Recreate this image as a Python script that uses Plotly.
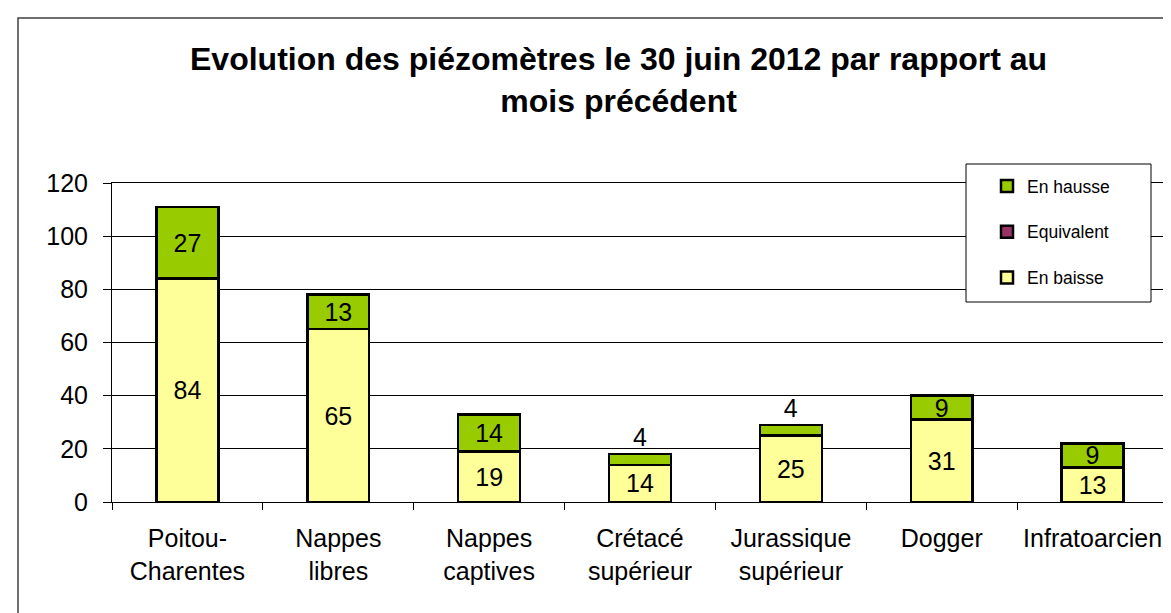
import plotly.graph_objects as go

categories = ["Poitou-<br>Charentes", "Nappes<br>libres", "Nappes<br>captives", "Crétacé<br>supérieur",
              "Jurassique<br>supérieur", "Dogger", "Infratoarcien"]
en_baisse = [84, 65, 19, 14, 25, 31, 13]
equivalent = [0, 0, 0, 0, 0, 0, 0]
en_hausse = [27, 13, 14, 4, 4, 9, 9]
hausse_textpos = ["inside", "inside", "inside", "outside", "outside", "inside", "inside"]

W, H = 1171, 613
L, R, T, B = 104, 1160, 175, 494


def px(x):
    return (x - L) / (R - L)


def py(y):
    return (B - y) / (B - T)


FONT = "Arial, Liberation Sans, sans-serif"
fig = go.Figure()
fig.add_trace(go.Bar(x=categories, y=en_baisse, name="En baisse", legendgroup="b", legendrank=3,
                     marker=dict(color="#FFFF99", line=dict(color="black", width=2.5)),
                     text=en_baisse, textposition="inside", insidetextanchor="middle", textangle=0,
                     textfont=dict(size=25, color="black", family=FONT)))
fig.add_trace(go.Bar(x=categories, y=equivalent, name="Equivalent", legendgroup="e", legendrank=2,
                     marker=dict(color="#993366", line=dict(color="black", width=2.5))))
fig.add_trace(go.Bar(x=categories, y=en_hausse, name="En hausse", legendgroup="h", legendrank=1,
                     marker=dict(color="#99CC00", line=dict(color="black", width=2.5)),
                     text=en_hausse, textposition=hausse_textpos, insidetextanchor="middle", textangle=0,
                     textfont=dict(size=25, color="black", family=FONT), cliponaxis=False))

fig.update_layout(
    width=W, height=H,
    barmode="stack", bargap=0.59,
    margin=dict(l=L, r=W - R, t=T, b=H - B, autoexpand=False),
    paper_bgcolor="white", plot_bgcolor="white",
    font=dict(family=FONT, size=25, color="black"),
    uniformtext=dict(minsize=25, mode="show"),
    showlegend=True,
    legend=dict(x=px(979), y=py(160), xanchor="left", yanchor="top",
                traceorder="grouped", tracegroupgap=20,
                bgcolor="rgba(0,0,0,0)", borderwidth=0,
                font=dict(size=17.5, family=FONT, color="black")),
    xaxis=dict(showline=True, linecolor="black", linewidth=1, mirror=True,
               ticks="outside", tickson="boundaries", ticklen=7, tickcolor="black",
               showgrid=False, tickfont=dict(size=25), ticklabelstandoff=14),
    yaxis=dict(range=[0, 120], dtick=20, showline=True, linecolor="black", linewidth=1, mirror=True,
               ticks="outside", ticklen=8, tickcolor="black", showgrid=True, gridcolor="black",
               gridwidth=1, zeroline=False, tickfont=dict(size=25), ticklabelstandoff=10),
    annotations=[
        dict(text="<b>Evolution des piézomètres le 30 juin 2012 par rapport au<br>mois précédent</b>",
             xref="paper", yref="paper", x=px(610), y=py(72), xanchor="center", yanchor="middle",
             showarrow=False, font=dict(size=32, family=FONT, color="black")),
    ],
    shapes=[
        dict(type="rect", xref="paper", yref="paper", x0=px(10), x1=px(1180), y0=py(625), y1=py(10),
             line=dict(color="#404040", width=1.5), fillcolor="rgba(0,0,0,0)", layer="below"),
        dict(type="rect", xref="paper", yref="paper", x0=px(958), x1=px(1143), y0=py(294), y1=py(156),
             line=dict(color="black", width=1), fillcolor="white", layer="above"),
    ],
)
fig.write_html("out.html")
